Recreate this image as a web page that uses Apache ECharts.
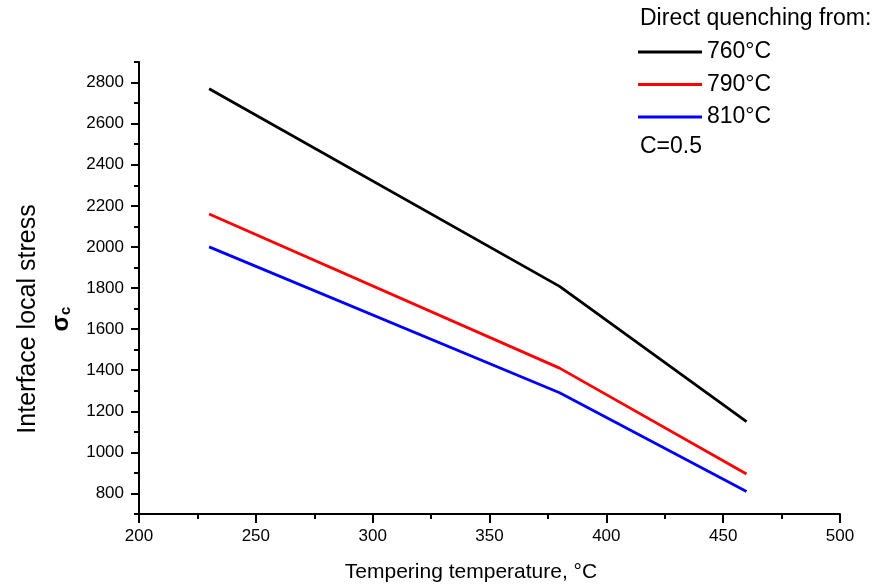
<!DOCTYPE html>
<html>
<head>
<meta charset="utf-8">
<script src="https://cdn.jsdelivr.net/npm/echarts@6/dist/echarts.min.js"></script>
<style>html,body{margin:0;padding:0;background:#fff}#c{width:886px;height:585px}</style>
</head>
<body>
<div id="c"></div>
<script>
var temperatures = [230, 380, 460];
var series760 = [2770, 1808, 1150];
var series790 = [2160, 1410, 895];
var series810 = [2000, 1290, 810];
var seriesNames = ['760°C', '790°C', '810°C'];
var xTicks = [200, 250, 300, 350, 400, 450, 500];
var yLabelTicks = [800, 1000, 1200, 1400, 1600, 1800, 2000, 2200, 2400, 2600, 2800];
var yMinorTicks = [700, 900, 1100, 1300, 1500, 1700, 1900, 2100, 2300, 2500, 2700, 2900];

var FONT = '"Liberation Sans", Arial, Helvetica, sans-serif';
var chart = echarts.init(document.getElementById('c'), null, {renderer: 'canvas'});

function pairs(xs, ys) { return xs.map(function (x, i) { return [x, ys[i]]; }); }
function plain(v) { return String(v); }

var option = {
  animation: false,
  backgroundColor: '#fff',
  grid: {left: 139, right: 46, top: 62, bottom: 71, containLabel: false},
  xAxis: {
    type: 'value', min: 200, max: 500, interval: 50,
    axisLine: {show: true, lineStyle: {color: '#000', width: 2}},
    axisTick: {show: true, length: 9, inside: false, customValues: xTicks, lineStyle: {color: '#000', width: 2}},
    minorTick: {show: true, splitNumber: 2, length: 5, lineStyle: {color: '#000', width: 2}},
    splitLine: {show: false},
    axisLabel: {color: '#000', fontSize: 17, fontFamily: FONT, margin: 14, formatter: plain, customValues: xTicks}
  },
  yAxis: [{
    type: 'value', min: 700, max: 2900,
    position: 'left',
    axisLine: {show: true, onZero: false, lineStyle: {color: '#000', width: 2}},
    axisTick: {show: true, length: 8, customValues: yLabelTicks, lineStyle: {color: '#000', width: 2}},
    splitLine: {show: false},
    axisLabel: {color: '#000', fontSize: 17, fontFamily: FONT, margin: 15, formatter: plain, customValues: yLabelTicks}
  }, {
    type: 'value', min: 700, max: 2900,
    position: 'left', offset: 0,
    axisLine: {show: false},
    axisTick: {show: true, length: 5, customValues: yMinorTicks, lineStyle: {color: '#000', width: 2}},
    splitLine: {show: false},
    axisLabel: {show: false}
  }],
  legend: {
    orient: 'vertical', left: 638, top: 39, padding: 0,
    itemWidth: 64, itemHeight: 3, itemGap: 6.5,
    icon: 'rect',
    data: seriesNames,
    textStyle: {color: '#000', fontSize: 23, fontFamily: FONT, lineHeight: 26}
  },
  graphic: [
    {type: 'text', x: 640, y: 19, style: {text: 'Direct quenching from:', fill: '#000', font: '23px ' + FONT, verticalAlign: 'middle'}},
    {type: 'text', x: 640, y: 147, style: {text: 'C=0.5', fill: '#000', font: '23px ' + FONT, verticalAlign: 'middle'}},
    {type: 'text', x: 471, y: 572, style: {text: 'Tempering temperature, °C', fill: '#000', font: '21px ' + FONT, align: 'center', verticalAlign: 'middle'}},
    {type: 'text', x: 28, y: 319, rotation: Math.PI / 2,
      style: {text: 'Interface local stress', fill: '#000', font: '25px ' + FONT, align: 'center', verticalAlign: 'middle'}},
    {type: 'text', x: 61, y: 319, rotation: Math.PI / 2,
      style: {text: '{s|σ}{c|c}', fill: '#000', align: 'center', verticalAlign: 'middle',
        rich: {s: {fontSize: 24, fontFamily: FONT, fontWeight: 'bold', fill: '#000'},
               c: {fontSize: 15, fontFamily: FONT, fontWeight: 'bold', fill: '#000', verticalAlign: 'bottom', padding: [4, 0, 0, 0]}}}}
  ],
  series: [
    {name: seriesNames[0], type: 'line', data: pairs(temperatures, series760), showSymbol: false, symbol: 'none', lineStyle: {color: '#000', width: 2.8}, itemStyle: {color: '#000'}},
    {name: seriesNames[1], type: 'line', data: pairs(temperatures, series790), showSymbol: false, symbol: 'none', lineStyle: {color: '#ff0000', width: 2.8}, itemStyle: {color: '#ff0000'}},
    {name: seriesNames[2], type: 'line', data: pairs(temperatures, series810), showSymbol: false, symbol: 'none', lineStyle: {color: '#0000ff', width: 2.8}, itemStyle: {color: '#0000ff'}}
  ]
};
chart.setOption(option);
</script>
</body>
</html>
